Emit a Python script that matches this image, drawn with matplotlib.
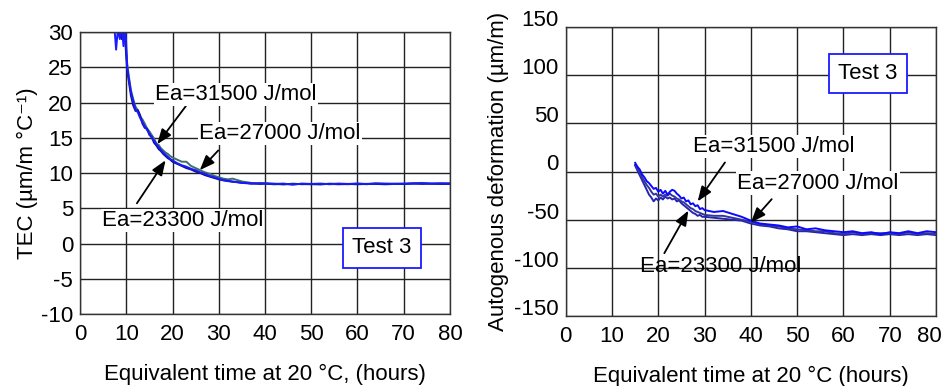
import matplotlib
matplotlib.use("Agg")
import matplotlib.pyplot as plt
import matplotlib.transforms as mtransforms

plt.rcParams["font.family"] = ["Liberation Sans", "DejaVu Sans"]
plt.rcParams["axes.unicode_minus"] = False

# ---- left panel: thermal expansion coefficient ----
tec_x = [7.4, 7.8, 8.2, 8.6, 9.0, 9.4, 9.8, 10.2, 10.6,
         11.0, 11.5, 12.0, 12.5, 13.0, 13.5, 14.0, 14.5, 15.0, 15.5, 16.0,
         16.5, 17.0, 17.5, 18.0, 18.5, 19.0, 19.5, 20.0,
         21, 22, 23, 24, 25, 26, 27, 28, 29, 30, 31, 32, 33, 34, 35, 36, 37, 38, 39, 40,
         42, 44, 46, 48, 50, 52, 54, 56, 58, 60, 62, 64, 66, 68, 70, 72, 74, 76, 78, 80]
tec_31500 = [31, 27.5, 30.5, 29, 31, 28, 31, 25, 23.2,
             21.5, 20.2, 19.0, 18.6, 17.8, 17.2, 16.6, 16.1, 15.6, 15.0, 14.6,
             14.1, 13.7, 13.3, 12.9, 12.6, 12.3, 12.0, 11.8,
             11.4, 11.1, 10.9, 10.6, 10.4, 10.1, 9.9, 9.6, 9.4, 9.2, 9.0, 8.9, 8.8, 8.7, 8.6, 8.6, 8.5, 8.55, 8.5, 8.5,
             8.45, 8.5, 8.35, 8.5, 8.45, 8.5, 8.4, 8.5, 8.45, 8.5, 8.45, 8.5, 8.5, 8.45, 8.5, 8.5, 8.55, 8.5, 8.55, 8.5]
tec_27000 = [34, 33, 32, 30.5, 29, 31, 28.5, 24.6, 22.8,
             21.0, 19.6, 18.8, 18.9, 18.2, 17.0, 16.4, 16.3, 15.4, 15.1, 14.3,
             13.9, 13.4, 13.1, 12.7, 12.4, 12.1, 11.9, 11.6,
             11.3, 11.0, 10.7, 10.5, 10.2, 10.0, 9.7, 9.5, 9.3, 9.1, 8.95, 8.85, 8.75, 8.7, 8.6, 8.55, 8.5, 8.5, 8.45, 8.5,
             8.4, 8.45, 8.4, 8.45, 8.4, 8.45, 8.45, 8.4, 8.45, 8.4, 8.45, 8.45, 8.4, 8.45, 8.45, 8.5, 8.45, 8.5, 8.45, 8.45]
tec_23300 = [36, 35, 34, 33, 32, 31, 29, 25.5, 23.5,
             21.8, 20.5, 19.4, 18.9, 18.0, 17.6, 17.0, 16.3, 15.9, 15.4, 14.9,
             14.2, 14.0, 13.5, 13.2, 12.9, 12.7, 12.4, 12.2,
             11.9, 11.6, 11.6, 11.0, 10.7, 10.4, 10.1, 9.9, 9.6, 9.4, 9.2, 9.1, 9.2, 9.0, 8.8, 8.7, 8.6, 8.5, 8.6, 8.55,
             8.5, 8.35, 8.5, 8.4, 8.45, 8.35, 8.5, 8.45, 8.4, 8.5, 8.4, 8.55, 8.45, 8.5, 8.45, 8.55, 8.6, 8.45, 8.5, 8.55]

# ---- right panel: autogenous deformation ----
auto_x = [15.0, 15.5, 16.0, 16.5, 17.0, 17.5, 18.0, 18.5, 19.0, 19.5, 20.0,
          20.5, 21.0, 21.5, 22.0, 22.5, 23.0, 23.5, 24.0, 24.5, 25.0,
          25.5, 26.0, 26.5, 27.0, 27.5, 28.0, 28.5, 29.0, 29.5, 30.0,
          32, 34, 36, 38, 40, 42, 44, 46, 48, 50, 52, 54, 56, 58, 60,
          62, 64, 66, 68, 70, 72, 74, 76, 78, 80]
auto_31500 = [9, 5, 2, -3, -6, -10, -12, -15, -18, -17, -21,
              -19, -23, -20, -24, -21, -19, -20, -23, -25, -28,
              -27, -31, -30, -34, -33, -36, -35, -39, -38, -40,
              -42, -41, -44, -47, -51, -54, -55, -56, -58, -57, -60, -59, -61, -62, -63,
              -62, -64, -63, -65, -63, -64, -62, -64, -62, -63]
auto_27000 = [6, 1, -4, -9, -14, -19, -24, -27, -31, -28, -30,
              -27, -29, -26, -28, -27, -29, -28, -31, -30, -33,
              -35, -37, -39, -41, -43, -44, -46, -45, -47, -47,
              -48, -49, -50, -51, -54, -56, -57, -59, -60, -62, -62, -63, -64, -65, -66,
              -65, -66, -65, -66, -65, -66, -65, -66, -65, -66]
auto_23300 = [7, 3, -1, -6, -10, -14, -17, -21, -24, -23, -26,
              -24, -26, -24, -25, -23, -25, -26, -28, -29, -31,
              -32, -34, -36, -38, -39, -41, -42, -43, -44, -45,
              -46, -46, -48, -50, -52, -55, -56, -57, -59, -60, -61, -62, -62, -64, -65,
              -63, -65, -64, -64, -64, -65, -63, -65, -64, -65]

x_ticks = [0, 10, 20, 30, 40, 50, 60, 70, 80]
tec_ticks = [-10, -5, 0, 5, 10, 15, 20, 25, 30]
auto_ticks = [-150, -100, -50, 0, 50, 100, 150]
ea_labels = ["Ea=31500 J/mol", "Ea=27000 J/mol", "Ea=23300 J/mol"]

fig = plt.figure(figsize=(9.46, 3.86), dpi=100)
ax1 = fig.add_axes([0.0846, 0.1865, 0.391, 0.7306])
ax2 = fig.add_axes([0.598, 0.1813, 0.3915, 0.7487])

text_box = dict(boxstyle="square,pad=0.05", fc="white", ec="none")
arrow = dict(arrowstyle="-|>,head_length=0.9,head_width=0.35", color="black", lw=1.3,
             shrinkA=0, shrinkB=0)
test_box = dict(boxstyle="square,pad=0.42", fc="white", ec="#1a1aff", lw=1.3)


def style_axes(ax, yticks):
    ax.set_xlim(0, 80)
    ax.set_ylim(yticks[0], yticks[-1])
    ax.set_xticks(x_ticks)
    ax.set_yticks(yticks)
    ax.grid(True, color="#222222", lw=1.0)
    ax.set_axisbelow(True)
    ax.tick_params(length=0, labelsize=16, pad=5)
    ax.tick_params(axis="x", pad=7)
    for s in ax.spines.values():
        s.set_color("#333333")
        s.set_linewidth(1.0)


# left chart
ax1.plot(tec_x, tec_23300, color="#3f6f6c", lw=1.4)
ax1.plot(tec_x, tec_27000, color="#10108a", lw=1.4)
ax1.plot(tec_x, tec_31500, color="#1a1aff", lw=1.4)
style_axes(ax1, tec_ticks)
ax1.set_xlabel("Equivalent time at 20 °C, (hours)", fontsize=16, labelpad=14)
ax1.set_ylabel("TEC (µm/m °C⁻¹)", fontsize=16, labelpad=2)

ax1.annotate("", xy=(16.7, 14.1), xytext=(22.9, 19.5), arrowprops=arrow)
ax1.annotate("", xy=(25.9, 10.4), xytext=(29.9, 13.2), arrowprops=arrow)
ax1.annotate("", xy=(18.5, 11.8), xytext=(12.3, 5.7), arrowprops=arrow)
ax1.text(16.2, 21.1, ea_labels[0], fontsize=16, va="center", bbox=text_box)
ax1.text(25.8, 15.6, ea_labels[1], fontsize=16, va="center", bbox=text_box)
ax1.text(4.7, 3.3, ea_labels[2], fontsize=16, va="center", bbox=text_box)
ax1.text(65.3, -0.6, "Test 3", fontsize=16, ha="center", va="center", bbox=test_box)

# right chart
ax2.plot(auto_x, auto_27000, color="#2525b0", lw=1.4)
ax2.plot(auto_x, auto_23300, color="#35359c", lw=1.4)
ax2.plot(auto_x, auto_31500, color="#0a0aff", lw=1.4)
style_axes(ax2, auto_ticks)
ax2.set_xlabel("Equivalent time at 20 °C (hours)", fontsize=16, labelpad=14)
ax2.set_ylabel("Autogenous deformation (µm/m)", fontsize=16, labelpad=4)
# tick labels sit a little above their gridlines in the original
shift = mtransforms.ScaledTranslation(0, 6.5 / 72, fig.dpi_scale_trans)
for lab in ax2.get_yticklabels():
    lab.set_transform(lab.get_transform() + shift)
# last x label is pulled in so it stays inside the figure
last = ax2.get_xticklabels()[-1]
last.set_transform(last.get_transform()
                   + mtransforms.ScaledTranslation(-5 / 72, 0, fig.dpi_scale_trans))

ax2.annotate("", xy=(28.5, -31), xytext=(34.4, 9.4), arrowprops=arrow)
ax2.annotate("", xy=(40.0, -53), xytext=(44.5, -28.7), arrowprops=arrow)
ax2.annotate("", xy=(26.5, -40.5), xytext=(21.3, -84.8), arrowprops=arrow)
ax2.text(27.4, 26, ea_labels[0], fontsize=16, va="center", bbox=text_box)
ax2.text(37.1, -12, ea_labels[1], fontsize=16, va="center", bbox=text_box)
ax2.text(16.1, -98.7, ea_labels[2], fontsize=16, va="center")
ax2.text(65.3, 101.8, "Test 3", fontsize=16, ha="center", va="center", bbox=test_box)

fig.savefig("out.png", dpi=100)
plt.close(fig)
